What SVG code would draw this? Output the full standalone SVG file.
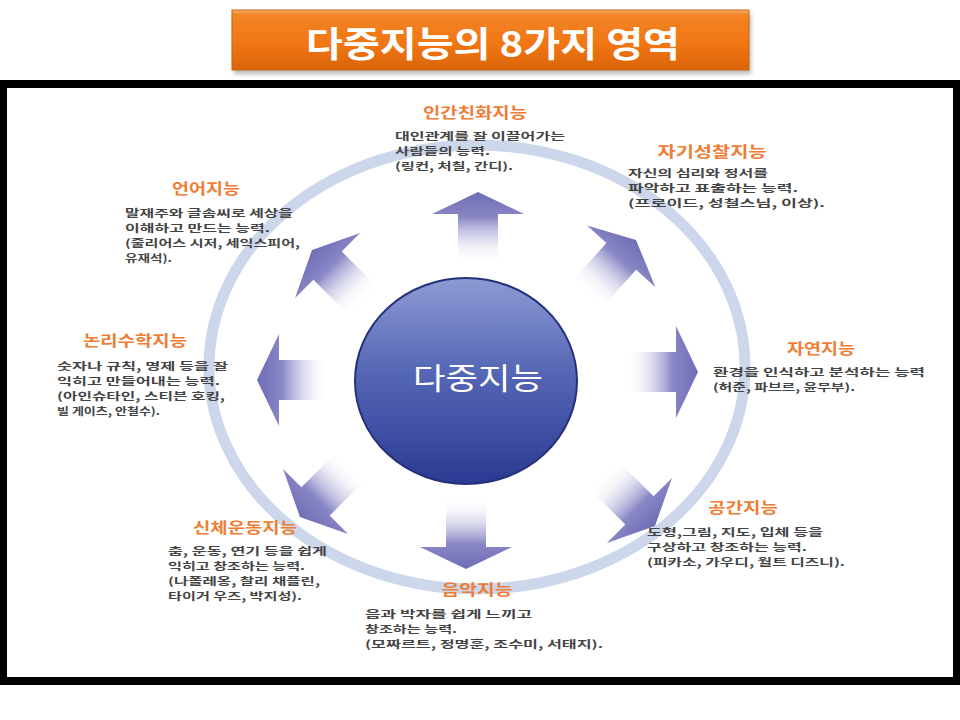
<svg xmlns="http://www.w3.org/2000/svg" width="960" height="720" viewBox="0 0 960 720">
<defs>
<linearGradient id="titleGrad" x1="0" y1="0" x2="0" y2="1">
<stop offset="0" stop-color="#F9B06A"/>
<stop offset="0.08" stop-color="#F38426"/>
<stop offset="0.6" stop-color="#F07512"/>
<stop offset="1" stop-color="#D9640B"/>
</linearGradient>
<linearGradient id="coreGrad" x1="0" y1="0" x2="0" y2="1">
<stop offset="0" stop-color="#8D9BD3"/>
<stop offset="0.45" stop-color="#5667B6"/>
<stop offset="1" stop-color="#2B3A92"/>
</linearGradient>
<linearGradient id="arrowGrad" x1="0" y1="0" x2="0" y2="1">
<stop offset="0" stop-color="#6F6DB5"/>
<stop offset="0.35" stop-color="#8987C5"/>
<stop offset="1" stop-color="#FFFFFF" stop-opacity="0"/>
</linearGradient>
<filter id="shadow" x="-10%" y="-20%" width="120%" height="160%">
<feGaussianBlur stdDeviation="2"/>
</filter>
<path id="arrow" d="M0,0 L46,22 L20,22 L20,72 L-20,72 L-20,22 L-46,22 Z"/>
<style>
.t{font-family:'Noto Sans CJK KR','Noto Sans',sans-serif;}
.h{font-size:15px;font-weight:700;fill:#EF7D35;text-anchor:middle;}
.b{font-size:10.3px;font-weight:700;fill:#444444;}
.arr{fill:url(#arrowGrad);}
</style>
</defs>
<rect x="0" y="0" width="960" height="720" fill="#FFFFFF"/>

<g id="title">
<rect x="234" y="14" width="517" height="60" fill="#8A8A8A" opacity="0.6" filter="url(#shadow)"/>
<rect x="232" y="10" width="517" height="60" fill="url(#titleGrad)" stroke="#D0650F" stroke-width="1"/>
<text class="t" x="493" y="57" font-size="35" font-weight="700" fill="#FFFFFF" text-anchor="middle" textLength="374" lengthAdjust="spacingAndGlyphs">다중지능의 8가지 영역</text>
</g>

<g id="frame">
<rect x="0" y="80" width="960" height="605" fill="#000000"/>
<rect x="7" y="88" width="946" height="589" fill="#FFFFFF"/>
</g>

<g id="ring">
<ellipse cx="477" cy="367" rx="268" ry="222" fill="none" stroke="#CDD7EB" stroke-width="11"/>
</g>

<g id="connectors">
<use href="#arrow" class="arr" transform="translate(478,192)"/>
<use href="#arrow" class="arr" transform="translate(636,240) rotate(42)"/>
<use href="#arrow" class="arr" transform="translate(698,372) rotate(90)"/>
<use href="#arrow" class="arr" transform="translate(655,526) rotate(135)"/>
<use href="#arrow" class="arr" transform="translate(466,569) rotate(180)"/>
<use href="#arrow" class="arr" transform="translate(300,517) rotate(225)"/>
<use href="#arrow" class="arr" transform="translate(257,380) rotate(270)"/>
<use href="#arrow" class="arr" transform="translate(312,250) rotate(315)"/>
</g>

<g id="core">
<ellipse cx="466" cy="381" rx="111" ry="103" fill="url(#coreGrad)" stroke="#26317C" stroke-width="2"/>
<text class="t" x="413" y="389" font-size="30" fill="#FFFFFF" textLength="130" lengthAdjust="spacingAndGlyphs">다중지능</text>
</g>

<g id="interpersonal">
<text class="t h" x="475" y="118" textLength="104" lengthAdjust="spacingAndGlyphs">인간친화지능</text>
<text class="t b" x="395" y="140" textLength="170" lengthAdjust="spacingAndGlyphs">대인관계를 잘 이끌어가는</text>
<text class="t b" x="395" y="155" textLength="95" lengthAdjust="spacingAndGlyphs">사람들의 능력.</text>
<text class="t b" x="395" y="170" textLength="118" lengthAdjust="spacingAndGlyphs">(링컨, 처칠, 간디).</text>
</g>

<g id="intrapersonal">
<text class="t h" x="712" y="157" textLength="109" lengthAdjust="spacingAndGlyphs">자기성찰지능</text>
<text class="t b" x="628" y="177" textLength="140" lengthAdjust="spacingAndGlyphs">자신의 심리와 정서를</text>
<text class="t b" x="628" y="192" textLength="170" lengthAdjust="spacingAndGlyphs">파악하고 표출하는 능력.</text>
<text class="t b" x="628" y="207" textLength="197" lengthAdjust="spacingAndGlyphs">(프로이드, 성철스님, 이상).</text>
</g>

<g id="linguistic">
<text class="t h" x="206" y="194" textLength="68" lengthAdjust="spacingAndGlyphs">언어지능</text>
<text class="t b" x="125" y="217" textLength="168" lengthAdjust="spacingAndGlyphs">말재주와 글솜씨로 세상을</text>
<text class="t b" x="125" y="232" textLength="145" lengthAdjust="spacingAndGlyphs">이해하고 만드는 능력.</text>
<text class="t b" x="125" y="247" textLength="175" lengthAdjust="spacingAndGlyphs">(줄리어스 시저, 세익스피어,</text>
<text class="t b" x="125" y="262" textLength="47" lengthAdjust="spacingAndGlyphs">유재석).</text>
</g>

<g id="logical">
<text class="t h" x="135" y="346" textLength="104" lengthAdjust="spacingAndGlyphs">논리수학지능</text>
<text class="t b" x="57" y="370" textLength="171" lengthAdjust="spacingAndGlyphs">숫자나 규칙, 명제 등을 잘</text>
<text class="t b" x="57" y="385" textLength="163" lengthAdjust="spacingAndGlyphs">익히고 만들어내는 능력.</text>
<text class="t b" x="57" y="400" textLength="168" lengthAdjust="spacingAndGlyphs">(아인슈타인, 스티븐 호킹,</text>
<text class="t b" x="57" y="415" textLength="103" lengthAdjust="spacingAndGlyphs">빌 게이츠, 안철수).</text>
</g>

<g id="naturalist">
<text class="t h" x="821" y="354" textLength="68" lengthAdjust="spacingAndGlyphs">자연지능</text>
<text class="t b" x="713" y="376" textLength="212" lengthAdjust="spacingAndGlyphs">환경을 인식하고 분석하는 능력</text>
<text class="t b" x="713" y="391" textLength="142" lengthAdjust="spacingAndGlyphs">(허준, 파브르, 윤무부).</text>
</g>

<g id="spatial">
<text class="t h" x="743" y="513" textLength="70" lengthAdjust="spacingAndGlyphs">공간지능</text>
<text class="t b" x="647" y="536" textLength="176" lengthAdjust="spacingAndGlyphs">도형,그림, 지도, 입체 등을</text>
<text class="t b" x="647" y="551" textLength="160" lengthAdjust="spacingAndGlyphs">구상하고 창조하는 능력.</text>
<text class="t b" x="647" y="566" textLength="198" lengthAdjust="spacingAndGlyphs">(피카소, 가우디, 월트 디즈니).</text>
</g>

<g id="bodily">
<text class="t h" x="245" y="533" textLength="104" lengthAdjust="spacingAndGlyphs">신체운동지능</text>
<text class="t b" x="168" y="555" textLength="159" lengthAdjust="spacingAndGlyphs">춤, 운동, 연기 등을 쉽게</text>
<text class="t b" x="168" y="570" textLength="137" lengthAdjust="spacingAndGlyphs">익히고 창조하는 능력.</text>
<text class="t b" x="168" y="585" textLength="152" lengthAdjust="spacingAndGlyphs">(나폴레옹, 찰리 채플린,</text>
<text class="t b" x="168" y="600" textLength="134" lengthAdjust="spacingAndGlyphs">타이거 우즈, 박지성).</text>
</g>

<g id="musical">
<text class="t h" x="477" y="595" textLength="71" lengthAdjust="spacingAndGlyphs">음악지능</text>
<text class="t b" x="365" y="618" textLength="167" lengthAdjust="spacingAndGlyphs">음과 박자를 쉽게 느끼고</text>
<text class="t b" x="365" y="633" textLength="92" lengthAdjust="spacingAndGlyphs">창조하는 능력.</text>
<text class="t b" x="365" y="648" textLength="238" lengthAdjust="spacingAndGlyphs">(모짜르트, 정명훈, 조수미, 서태지).</text>
</g>
</svg>
